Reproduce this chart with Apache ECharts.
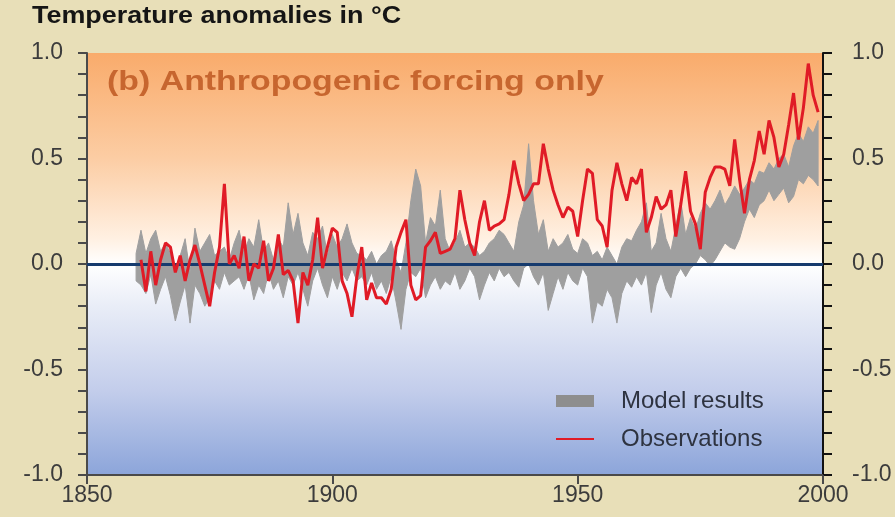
<!DOCTYPE html>
<html>
<head>
<meta charset="utf-8">
<title>Temperature anomalies</title>
<script src="https://cdn.jsdelivr.net/npm/echarts@6/dist/echarts.min.js"></script>
<style>
  html, body { margin: 0; padding: 0; background: #e8dfb8; }
  #chart { width: 895px; height: 517px; }
</style>
</head>
<body>
<div id="chart"></div>
<script>
// observations, annual, 1861-1999
const obsStart = 1861
const observations = [
  0.02, -0.13, 0.06, -0.10, 0.02, 0.10, 0.08, -0.04, 0.04, -0.08,
  0.02, 0.09, 0.00, -0.10, -0.20, -0.04, 0.08, 0.38, 0.00, 0.04,
  -0.02, 0.13, -0.08, 0.00, -0.02, 0.11, -0.08, -0.02, 0.14, -0.05,
  -0.03, -0.08, -0.28, -0.04, -0.10, 0.02, 0.22, -0.02, 0.08, 0.17,
  0.15, -0.08, -0.14, -0.25, -0.06, 0.08, -0.17, -0.09, -0.16, -0.16,
  -0.19, -0.12, 0.08, 0.15, 0.21, -0.10, -0.17, -0.15, 0.08, 0.11,
  0.15, 0.05, 0.06, 0.07, 0.12, 0.35, 0.21, 0.10, 0.04, 0.20,
  0.30, 0.16, 0.18, 0.19, 0.21, 0.33, 0.49, 0.38, 0.30, 0.33,
  0.38, 0.38, 0.57, 0.45, 0.35, 0.28, 0.22, 0.27, 0.25, 0.13,
  0.30, 0.45, 0.43, 0.21, 0.18, 0.08, 0.35, 0.48, 0.38, 0.30,
  0.41, 0.38, 0.45, 0.15, 0.22, 0.32, 0.26, 0.28, 0.35, 0.13,
  0.28, 0.44, 0.25, 0.19, 0.07, 0.34, 0.41, 0.46, 0.46, 0.45,
  0.37, 0.59, 0.40, 0.24, 0.40, 0.49, 0.63, 0.52, 0.68, 0.60,
  0.46, 0.52, 0.66, 0.81, 0.59, 0.74, 0.95, 0.80, 0.72
]

// model range (lower / upper edge), annual, 1860-1999
const modelStart = 1860
const modelLow = [
  -0.08, -0.10, -0.14, -0.05, -0.19, -0.12, -0.06, -0.15, -0.27, -0.18,
  -0.10, -0.28, -0.10, -0.14, -0.20, -0.16, -0.08, -0.12, -0.04, -0.10,
  -0.08, -0.06, -0.12, -0.05, -0.17, -0.10, -0.14, -0.04, -0.12, -0.08,
  -0.16, -0.06, -0.10, -0.04, -0.12, -0.20, -0.08, -0.02, -0.10, -0.16,
  -0.06, -0.12, -0.04, -0.08, -0.02, -0.08, -0.06, -0.10, -0.04, -0.12,
  -0.08, -0.14, -0.06, -0.18, -0.31, -0.12, -0.04, -0.06, -0.02, -0.16,
  -0.10, -0.06, -0.12, -0.08, -0.10, -0.04, -0.12, -0.08, -0.02, -0.06,
  -0.17, -0.10, -0.04, -0.08, -0.02, -0.06, -0.04, -0.08, -0.11, -0.02,
  0.00, -0.06, -0.10, -0.04, -0.22, -0.14, -0.06, -0.12, -0.04, -0.08,
  -0.10, -0.02, -0.06, -0.28, -0.18, -0.20, -0.12, -0.16, -0.28, -0.14,
  -0.08, -0.11, -0.06, -0.10, -0.04, -0.23, -0.10, -0.04, -0.12, -0.16,
  -0.06, -0.02, -0.06, -0.02, 0.00, 0.04, 0.02, -0.01, 0.02, 0.06,
  0.10, 0.08, 0.07, 0.12, 0.20, 0.26, 0.22, 0.28, 0.30, 0.35,
  0.30, 0.33, 0.36, 0.29, 0.32, 0.40, 0.38, 0.42, 0.40, 0.37
]
const modelHigh = [
  0.05, 0.16, 0.05, 0.12, 0.16, 0.06, 0.10, 0.05, -0.02, 0.04,
  0.12, -0.04, 0.17, 0.06, 0.10, 0.14, 0.04, 0.06, 0.08, 0.02,
  0.10, 0.16, 0.05, 0.12, 0.08, 0.21, 0.06, 0.10, 0.02, 0.12,
  0.08, 0.29, 0.14, 0.24, 0.10, 0.04, 0.15, 0.12, 0.18, 0.04,
  0.14, 0.08, 0.12, 0.19, 0.10, 0.05, 0.04, 0.02, 0.06, 0.00,
  0.04, 0.06, 0.11, 0.02, -0.04, 0.10, 0.30, 0.45, 0.37, 0.10,
  0.22, 0.18, 0.35, 0.12, 0.06, 0.10, 0.16, 0.08, 0.10, 0.08,
  0.04, 0.06, 0.10, 0.12, 0.16, 0.14, 0.10, 0.06, 0.20, 0.28,
  0.57, 0.30, 0.14, 0.21, 0.06, 0.12, 0.08, 0.10, 0.14, 0.07,
  0.05, 0.12, 0.10, 0.04, 0.06, 0.02, 0.08, 0.04, 0.00, 0.08,
  0.12, 0.11, 0.16, 0.20, 0.29, 0.06, 0.10, 0.24, 0.12, 0.06,
  0.18, 0.30, 0.14, 0.22, 0.16, 0.24, 0.29, 0.26, 0.30, 0.35,
  0.28, 0.32, 0.37, 0.33, 0.36, 0.40, 0.38, 0.44, 0.43, 0.48,
  0.45, 0.50, 0.52, 0.46, 0.56, 0.62, 0.58, 0.65, 0.62, 0.68
]

const yTicks = [-1, -0.5, 0, 0.5, 1]
const xTicks = [1850, 1900, 1950, 2000]

const FONT = '"Liberation Sans", Arial, sans-serif'
const axisColor = '#4a4a4a'
const bandColor = '#9f9f9f'
const obsColor = '#e01b26'

const obsData = observations.map((v, i) => [obsStart + i, v])
const bandData = modelLow.map((v, i) => [modelStart + i, v, modelHigh[i]])

const chart = echarts.init(document.getElementById('chart'))

function yAxisDef(position, lineColor) {
  return {
    type: 'value',
    position: position,
    min: yTicks[0],
    max: yTicks[yTicks.length - 1],
    interval: 0.5,
    axisLine: { show: true, onZero: false, lineStyle: { color: lineColor, width: 2 } },
    axisTick: { show: true, inside: false, length: 9, lineStyle: { color: lineColor, width: 2 } },
    minorTick: { show: true, splitNumber: 5, length: 9, lineStyle: { color: lineColor, width: 2 } },
    splitLine: { show: false },
    axisLabel: {
      margin: position === 'left' ? 24 : 29,
      color: '#3c3c3c',
      fontFamily: FONT,
      fontSize: 23,
      formatter: v => v.toFixed(1)
    }
  }
}

// whole band as one polygon, upper edge forward then lower edge back
function renderBand(params, api) {
  if (params.dataIndex !== 0) return null
  const upper = bandData.map(d => api.coord([d[0], d[2]]))
  const lower = bandData.map(d => api.coord([d[0], d[1]])).reverse()
  return {
    type: 'polygon',
    shape: { points: upper.concat(lower) },
    style: { fill: bandColor, stroke: bandColor, lineWidth: 1 }
  }
}

chart.setOption({
  backgroundColor: '#e8dfb8',
  animation: false,
  grid: {
    left: 87,
    right: 72,
    top: 53,
    bottom: 42,
    show: true,
    borderWidth: 0,
    backgroundColor: new echarts.graphic.LinearGradient(0, 0, 0, 1, [
      { offset: 0, color: '#f9ab6b' },
      { offset: 0.25, color: '#fccda4' },
      { offset: 0.44, color: '#fff0e2' },
      { offset: 0.5, color: '#ffffff' },
      { offset: 0.6, color: '#e9edf7' },
      { offset: 0.8, color: '#c3cdeb' },
      { offset: 1, color: '#8ca5da' }
    ])
  },
  graphic: [
    {
      type: 'text',
      left: 32,
      top: 5,
      scaleX: 1.17,
      style: {
        text: 'Temperature anomalies in °C',
        font: 'bold 23px ' + FONT,
        fill: '#151515'
      }
    },
    {
      type: 'text',
      left: 107,
      top: 68,
      z: 10,
      scaleX: 1.21,
      style: {
        text: '(b) Anthropogenic forcing only',
        font: 'bold 28px ' + FONT,
        fill: '#c7662f'
      }
    }
  ],
  legend: {
    orient: 'vertical',
    left: 550,
    top: 384,
    itemWidth: 38,
    itemHeight: 12,
    itemGap: 14,
    textStyle: {
      fontFamily: FONT,
      fontSize: 24,
      color: '#2e3340',
      padding: [0, 0, 0, 22]
    },
    data: [
      { name: 'Model results', icon: 'rect', itemStyle: { color: '#8e8e8e' } },
      { name: 'Observations', itemStyle: { color: 'rgba(0,0,0,0)', borderWidth: 0 } }
    ]
  },
  xAxis: {
    type: 'value',
    min: xTicks[0],
    max: xTicks[xTicks.length - 1],
    interval: 50,
    axisLine: { show: true, onZero: false, lineStyle: { color: axisColor, width: 2 } },
    axisTick: { show: true, length: 9, lineStyle: { color: axisColor, width: 2 } },
    splitLine: { show: false },
    axisLabel: {
      margin: 9,
      color: '#3c3c3c',
      fontFamily: FONT,
      fontSize: 23,
      formatter: v => String(v)
    }
  },
  yAxis: [yAxisDef('left', axisColor), yAxisDef('right', '#111111')],
  series: [
    {
      name: 'Model results',
      type: 'custom',
      renderItem: renderBand,
      data: bandData,
      encode: { x: 0, y: [1, 2] },
      itemStyle: { color: bandColor },
      clip: true,
      silent: true,
      markLine: {
        silent: true,
        symbol: 'none',
        label: { show: false },
        lineStyle: { color: '#163b6e', width: 3, type: 'solid' },
        data: [{ yAxis: 0 }]
      }
    },
    {
      name: 'Observations',
      type: 'line',
      data: obsData,
      symbol: 'none',
      z: 6,
      lineStyle: { color: obsColor, width: 3 },
      itemStyle: { color: obsColor }
    }
  ]
})
</script>
</body>
</html>
